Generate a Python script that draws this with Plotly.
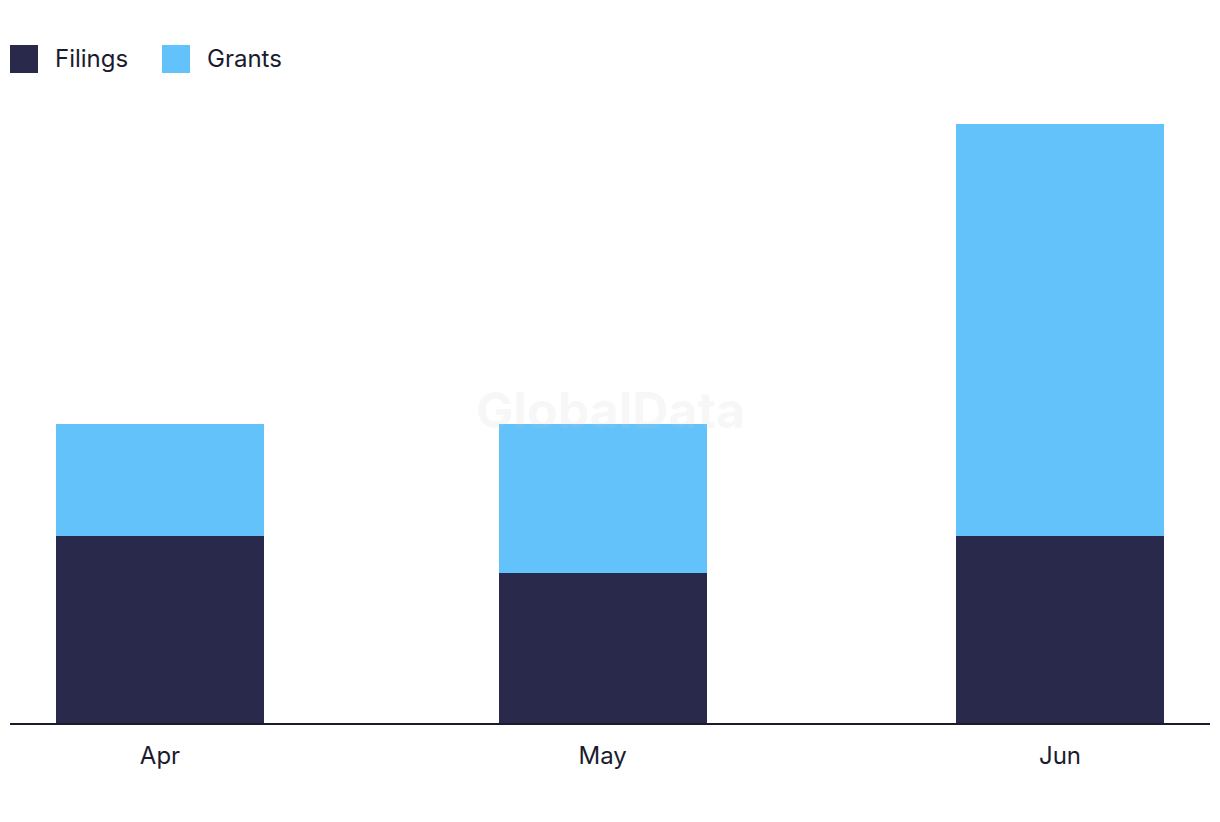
import plotly.graph_objects as go

# monthly counts
months = ["2024-04-01", "2024-05-01", "2024-06-01"]
filings = [5, 4, 5]
grants = [3, 4, 11]

navy = "#29294b"
sky = "#63c2f9"
ink = "#1b1b2f"

bar_w = 14.1 * 86400000  # ms, date axis

fig = go.Figure()
fig.add_trace(go.Bar(x=months, y=filings, name="Filings", marker_color=navy,
                     marker_line_width=0, width=bar_w))
fig.add_trace(go.Bar(x=months, y=grants, name="Grants", marker_color=sky,
                     marker_line_width=0, width=bar_w))

# page has an 8px body margin, so pull the plot area back up/left
fig.update_layout(
    barmode="stack",
    width=1220, height=822,
    margin=dict(l=2, r=18, t=116, b=107),
    plot_bgcolor="white", paper_bgcolor="white",
    font=dict(family="Inter", color=ink, size=24),
    showlegend=False,
)
fig.update_xaxes(
    type="date",
    range=["2024-03-21 20:00", "2024-06-11 04:00"],
    tickvals=months, tickformat="%b",
    showgrid=False, showline=True, linecolor=ink, linewidth=2,
    ticks="", ticklabelstandoff=10,
    tickfont=dict(size=24, color=ink),
)
fig.update_yaxes(range=[0, 16], visible=False, showgrid=False)

# legend drawn by hand so the swatches can be large
def px_x(p):
    return (p - 10) / 1200

def px_y(p):
    return (723 - p) / 599

for x0, col, label in [(10, navy, "Filings"), (162, sky, "Grants")]:
    fig.add_shape(type="rect", xref="paper", yref="paper",
                  x0=px_x(x0), x1=px_x(x0 + 28), y0=px_y(73), y1=px_y(45),
                  fillcolor=col, line_width=0)
    fig.add_annotation(xref="paper", yref="paper", x=px_x(x0 + 43), y=px_y(58),
                       text=label, showarrow=False, xanchor="left", yanchor="middle",
                       font=dict(size=24, color=ink))

# watermark
fig.add_annotation(xref="paper", yref="paper", x=px_x(610), y=px_y(410),
                   text="<b>GlobalData</b>", showarrow=False,
                   font=dict(size=50, color="rgba(200,200,200,0.15)"))

fig.write_html("out.html")
